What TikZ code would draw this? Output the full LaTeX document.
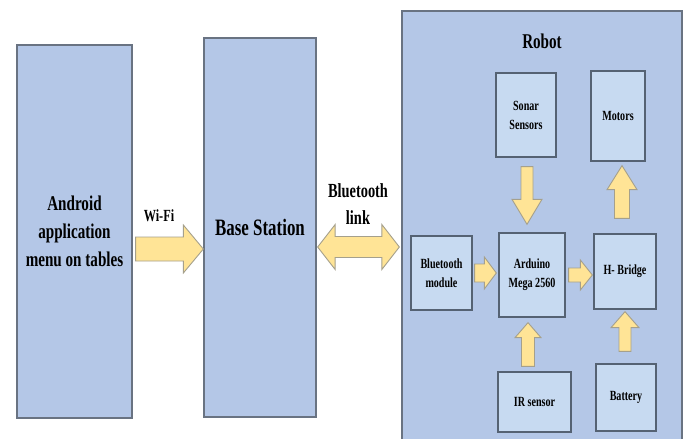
\documentclass[tikz,border=0pt]{standalone}
\usepackage{fontspec}
\setmainfont{Liberation Serif}[FakeStretch=0.72]
\usetikzlibrary{calc}
\definecolor{bigfill}{RGB}{180,199,231}
\definecolor{subfill}{RGB}{199,218,241}
\definecolor{bigline}{RGB}{105,115,130}
\definecolor{subline}{RGB}{85,98,115}
\definecolor{arrfill}{RGB}{255,228,150}
\definecolor{arrline}{RGB}{165,160,140}
\tikzset{
  bigbox/.style={draw=bigline, fill=bigfill, line width=1.3pt, inner sep=0pt, align=center, font=\bfseries},
  subbox/.style={draw=subline, fill=subfill, line width=1.3pt, inner sep=0pt, align=center,
                 font=\fontsize{14pt}{19pt}\selectfont\bfseries},
  arrowst/.style={draw=arrline, fill=arrfill, line width=0.9pt, line join=miter},
  lbl/.style={inner sep=0pt, align=center, font=\bfseries}
}
\newcommand{\blockarr}[5]{%
  \coordinate (tmpHb) at ($(#2)!#5!(#1)$);
  \draw[arrowst] ($(#1)!#3!90:(#2)$) -- ($(tmpHb)!#3!90:(#2)$) -- ($(tmpHb)!#4!90:(#2)$) -- (#2)
     -- ($(tmpHb)!#4!-90:(#2)$) -- ($(tmpHb)!#3!-90:(#2)$) -- ($(#1)!#3!-90:(#2)$) -- cycle;}
\newcommand{\dblockarr}[5]{%
  \coordinate (tmpHa) at ($(#1)!#5!(#2)$);
  \coordinate (tmpHb) at ($(#2)!#5!(#1)$);
  \draw[arrowst] (#1) -- ($(tmpHa)!#4!90:(#2)$) -- ($(tmpHa)!#3!90:(#2)$) -- ($(tmpHb)!#3!-90:(#1)$)
     -- ($(tmpHb)!#4!-90:(#1)$) -- (#2) -- ($(tmpHb)!#4!90:(#1)$) -- ($(tmpHb)!#3!90:(#1)$)
     -- ($(tmpHa)!#3!-90:(#2)$) -- ($(tmpHa)!#4!-90:(#2)$) -- cycle;}
\begin{document}
\begin{tikzpicture}[x=1pt, y=-1pt]
\useasboundingbox[fill=white] (0,0) rectangle (686,439);
% big boxes
\node[bigbox, minimum width=115pt, minimum height=373pt,
      font=\fontsize{21pt}{28pt}\selectfont\bfseries] (android) at (74.5,231.5)
      {Android\\application\\menu on tables};
\node[bigbox, minimum width=112pt, minimum height=379pt,
      font=\fontsize{23.5pt}{28pt}\selectfont\bfseries] (base) at (260,227.5) {Base Station};
\node[bigbox, minimum width=280pt, minimum height=434pt] (robot) at (542,228) {};
\node[lbl, font=\fontsize{21pt}{26pt}\selectfont\bfseries] (robotlbl) at (542,41) {Robot};
% sub boxes
\node[subbox, minimum width=60pt, minimum height=84pt] (sonar) at (526,115) {Sonar\\Sensors};
\node[subbox, minimum width=54pt, minimum height=90pt] (motors) at (618,116) {Motors};
\node[subbox, minimum width=61pt, minimum height=74pt] (btmod) at (441.5,273) {Bluetooth\\module};
\node[subbox, minimum width=66pt, minimum height=84pt] (arduino) at (532,275) {Arduino\\Mega 2560};
\node[subbox, minimum width=62pt, minimum height=75pt] (hbridge) at (625,271.5) {H- Bridge};
\node[subbox, minimum width=73pt, minimum height=60pt] (irs) at (534.5,402) {IR sensor};
\node[subbox, minimum width=60pt, minimum height=67pt] (battery) at (626,397.5) {Battery};
% labels
\node[lbl, font=\fontsize{17pt}{20pt}\selectfont\bfseries] (wifilbl) at (159,216) {Wi-Fi};
\node[lbl, font=\fontsize{20pt}{27pt}\selectfont\bfseries] (btlbl) at (358,204) {Bluetooth\\link};
% arrow end points
\coordinate (w1) at ($(android.east |- 0,249)+(3,0)$);
\coordinate (w2) at (base.west |- 0,249);
\coordinate (l1) at ($(base.east |- 0,247)+(1,0)$);
\coordinate (l2) at ($(robot.west |- 0,247)+(-2,0)$);
\coordinate (s1) at ($(sonar.south)+(1,9)$);
\coordinate (s2) at ($(s1 |- arduino.north)+(0,-8)$);
\coordinate (m1) at ($(hbridge.north)+(-3,-15)$);
\coordinate (m2) at ($(m1 |- motors.south)+(0,4)$);
\coordinate (b1) at ($(btmod.east)+(2,0)$);
\coordinate (b2) at ($(arduino.west |- b1)+(-2,0)$);
\coordinate (a1) at ($(arduino.east)+(3,0)$);
\coordinate (a2) at ($(hbridge.west |- a1)+(-1,0)$);
\coordinate (i1) at ($(irs.north)+(-6.5,-5)$);
\coordinate (i2) at ($(i1 |- arduino.south)+(0,5)$);
\coordinate (t1) at ($(battery.north)+(-1,-12)$);
\coordinate (t2) at ($(t1 |- hbridge.south)+(0,2)$);
% block arrows
\blockarr{w1}{w2}{12pt}{24pt}{20pt}
\dblockarr{l1}{l2}{10.5pt}{22.5pt}{17.5pt}
\blockarr{s1}{s2}{6pt}{15pt}{25pt}
\blockarr{m1}{m2}{7.5pt}{15pt}{24pt}
\blockarr{b1}{b2}{9pt}{16pt}{12pt}
\blockarr{a1}{a2}{7pt}{15pt}{12pt}
\blockarr{i1}{i2}{6.5pt}{13pt}{15pt}
\blockarr{t1}{t2}{6pt}{14pt}{16pt}
\end{tikzpicture}
\end{document}
